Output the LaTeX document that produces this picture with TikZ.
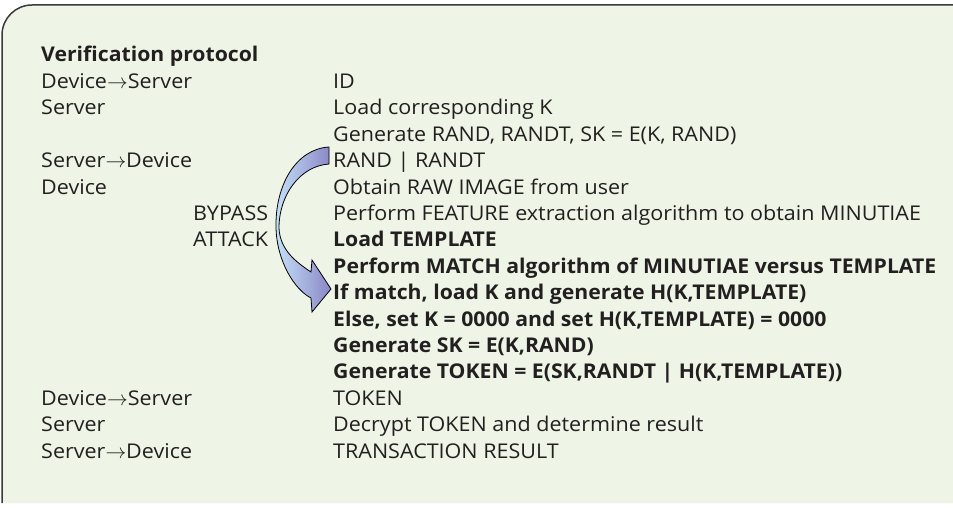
\documentclass[tikz,border=0pt]{standalone}
\usepackage{fontspec}
\setmainfont{Open Sans}[FakeStretch=1.06, BoldFeatures={FakeStretch=1.045}]
\definecolor{boxfill}{HTML}{EEF5E6}
\definecolor{boxline}{HTML}{3A3A3A}
\definecolor{txt}{HTML}{231F20}
\definecolor{arrL}{HTML}{C4E2F7}
\definecolor{arrR}{HTML}{8A86C6}
\begin{document}
\begin{tikzpicture}[x=1pt,y=-1pt,
  lbl/.style={anchor=base west, inner sep=0pt, text=txt, font=\fontsize{20.3}{22}\selectfont},
  blbl/.style={lbl, font=\fontsize{20.3}{22}\selectfont\bfseries}]
\useasboundingbox (0,0) rectangle (953,508);
% background box (open on right and bottom)
\fill[boxfill] (2,503) -- (2,35) arc[start angle=180,end angle=270,radius=30] -- (953,5) -- (953,503) -- cycle;
\draw[boxline, line width=1.5pt] (2,503) -- (2,35) arc[start angle=180,end angle=270,radius=30] -- (953,5);
% left column
\node[blbl] (title) at (41,62) {Verification protocol};
\node[lbl] (l1) at (41,88.4) {Device$\rightarrow$Server};
\node[lbl] (l2) at (41,114.8) {Server};
\node[lbl] (l4) at (41,167.6) {Server$\rightarrow$Device};
\node[lbl] (l5) at (41,194) {Device};
\node[lbl] (byp) at (193,220.4) {BYPASS};
\node[lbl] (att) at (193,246.8) {ATTACK};
\node[lbl] (l13) at (41,405.2) {Device$\rightarrow$Server};
\node[lbl] (l14) at (41,431.6) {Server};
\node[lbl] (l15) at (41,458) {Server$\rightarrow$Device};
% right column
\node[lbl] (r1) at (333,88.4) {ID};
\node[lbl] (r2) at (333,114.8) {Load corresponding K};
\node[lbl] (r3) at (333,141.2) {Generate RAND, RANDT, SK = E(K, RAND)};
\node[lbl] (r4) at (333,167.6) {RAND | RANDT};
\node[lbl] (r5) at (333,194) {Obtain RAW IMAGE from user};
\node[lbl] (r6) at (333,220.4) {Perform FEATURE extraction algorithm to obtain MINUTIAE};
\node[blbl] (r7) at (333,246.8) {Load TEMPLATE};
\node[blbl] (r8) at (333,273.2) {Perform MATCH algorithm of MINUTIAE versus TEMPLATE};
\node[blbl] (r9) at (333,299.6) {If match, load K and generate H(K,TEMPLATE)};
\node[blbl] (r10) at (333,326) {Else, set K = 0000 and set H(K,TEMPLATE) = 0000};
\node[blbl] (r11) at (333,352.4) {Generate SK = E(K,RAND)};
\node[blbl] (r12) at (333,378.8) {Generate TOKEN = E(SK,RANDT | H(K,TEMPLATE))};
\node[lbl] (r13) at (333,405.2) {TOKEN};
\node[lbl] (r14) at (333,431.6) {Decrypt TOKEN and determine result};
\node[lbl] (r15) at (333,458) {TRANSACTION RESULT};
% bypass arrow
\draw[line width=0.8pt, draw=black, left color=arrL, right color=arrR, line join=miter]
  (329,147) .. controls (296,149) and (275,185) .. (276,228)
  .. controls (277,262) and (295,290) .. (311,298)
  -- (312,312) -- (331,289) -- (312,260) -- (311,272)
  .. controls (296,262) and (280,250) .. (279,228)
  .. controls (279,195) and (300,166) .. (329,164) -- cycle;
\end{tikzpicture}
\end{document}
